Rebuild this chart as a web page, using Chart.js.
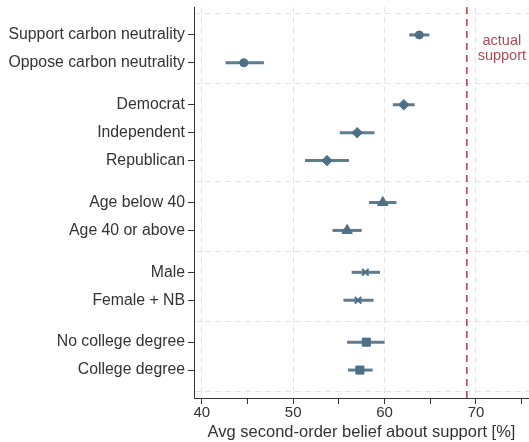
<!DOCTYPE html>
<html>
<head>
<meta charset="utf-8">
<script src="https://cdn.jsdelivr.net/npm/chart.js@4"></script>
<style>
  html, body { margin: 0; padding: 0; background: #fff; }
  #wrap { width: 529px; height: 442px; }
</style>
</head>
<body>
<div id="wrap"><canvas id="chart"></canvas></div>
<script>
// rows, grouped (a gap is left between groups)
const groups = [
  ['Support carbon neutrality', 'Oppose carbon neutrality'],
  ['Democrat', 'Independent', 'Republican'],
  ['Age below 40', 'Age 40 or above'],
  ['Male', 'Female + NB'],
  ['No college degree', 'College degree']
];
const groupMarkers = ['circle', 'rectRot', 'triangle', 'crossRot', 'rect'];

// avg second-order belief and its interval, same order as the rows
const means  = [63.8, 44.6, 62.1, 57.0, 53.7, 59.8, 55.9, 57.9, 57.1, 58.0, 57.3];
const ciLow  = [62.7, 42.6, 60.9, 55.1, 51.3, 58.3, 54.3, 56.4, 55.5, 55.9, 56.0];
const ciHigh = [64.9, 46.8, 63.3, 58.9, 56.1, 61.3, 57.5, 59.5, 58.8, 60.0, 58.7];
const actualSupport = 69;

const xTicks = [40, 45, 50, 55, 60, 65, 70, 75];

// row positions on the y scale
const rows = [];
const separators = [];
let pos = -0.5;
groups.forEach((g, gi) => {
  pos += 1.5;
  separators.push(pos - 0.75);
  g.forEach((name, j) => {
    if (j > 0) pos += 1;
    rows.push({ name, y: pos, group: gi });
  });
});
separators.push(pos + 0.75);
const labelAt = new Map(rows.map(r => [r.y, r.name]));
const sepSet = new Set(separators);

const markerColor = '#4d7088';
const barColor = '#5a7d94';
const gridColor = '#e4e4e4';
const axisColor = '#333';
const none = 'rgba(0,0,0,0)';

Chart.defaults.font.family = '"Liberation Sans", Arial, Helvetica, sans-serif';
Chart.defaults.color = '#333';

const datasets = [];
groups.forEach((g, gi) => {
  datasets.push({
    data: rows.map((r, i) => ({ r, i })).filter(o => o.r.group === gi)
      .map(o => ({ x: means[o.i], y: o.r.y })),
    pointStyle: groupMarkers[gi],
    pointRadius: gi === 2 ? 6 : gi === 4 ? 5.7 : gi === 1 ? 5.2 : gi === 3 ? 4.6 : 4,
    pointBorderWidth: gi === 3 ? 2 : 1,
    pointBackgroundColor: markerColor,
    pointBorderColor: markerColor,
    order: 0
  });
});
rows.forEach((r, i) => {
  datasets.push({
    data: [{ x: ciLow[i], y: r.y }, { x: ciHigh[i], y: r.y }],
    showLine: true,
    borderColor: barColor,
    borderWidth: 3,
    pointRadius: 0,
    order: 1
  });
});
datasets.push({
  data: [{ x: actualSupport, y: 0 }, { x: actualSupport, y: 14 }],
  showLine: true,
  borderColor: '#b83a4b',
  borderWidth: 1.5,
  borderDash: [7, 5],
  pointRadius: 0,
  order: 2
});

const actualLabel = {
  id: 'actualLabel',
  afterDatasetsDraw(chart) {
    const { ctx, scales: { x, y } } = chart;
    const px = x.getPixelForValue(actualSupport) + 35;
    ctx.save();
    ctx.font = '14.5px "Liberation Sans", Arial, sans-serif';
    ctx.fillStyle = '#b04a55';
    ctx.textAlign = 'center';
    ctx.textBaseline = 'middle';
    ctx.fillText('actual', px, y.getPixelForValue(1.22));
    ctx.fillText('support', px, y.getPixelForValue(1.75));
    ctx.restore();
  }
};

new Chart(document.getElementById('chart'), {
  type: 'scatter',
  data: { datasets },
  plugins: [actualLabel],
  options: {
    responsive: true,
    maintainAspectRatio: false,
    animation: false,
    layout: { autoPadding: false, padding: { top: 7, right: 0, bottom: 0, left: 0 } },
    plugins: {
      legend: { display: false },
      tooltip: { enabled: false }
    },
    scales: {
      x: {
        type: 'linear',
        min: 39.15,
        max: 75.8,
        afterBuildTicks: s => { s.ticks = xTicks.map(v => ({ value: v })); },
        afterFit: s => { s.height = 44; s.paddingLeft = 0; s.paddingRight = 0; },
        ticks: {
          autoSkip: false,
          padding: 0,
          color: '#333',
          font: { size: 15 },
          callback: v => (v % 10 === 0 ? String(v) : '')
        },
        grid: {
          color: c => (c.tick && c.tick.value % 10 === 0 ? gridColor : none),
          tickColor: axisColor,
          tickLength: 6,
          lineWidth: 1
        },
        border: { color: axisColor, width: 1, dash: [6, 4] },
        title: {
          display: true,
          text: 'Avg second-order belief about support [%]',
          color: '#333',
          font: { size: 16.5 },
          padding: { top: 0, bottom: 0 }
        }
      },
      y: {
        type: 'linear',
        min: 0,
        max: 14,
        reverse: true,
        afterBuildTicks: s => {
          s.ticks = rows.map(r => ({ value: r.y }))
            .concat(separators.map(v => ({ value: v })));
        },
        afterFit: s => { s.width = 194; s.paddingTop = 0; s.paddingBottom = 0; },
        ticks: {
          autoSkip: false,
          padding: 3,
          color: '#333',
          font: { size: 15.8 },
          callback: v => labelAt.get(v) || ''
        },
        grid: {
          color: c => (c.tick && sepSet.has(c.tick.value) ? gridColor : none),
          tickColor: c => (c.tick && sepSet.has(c.tick.value) ? none : axisColor),
          tickLength: 6,
          lineWidth: 1
        },
        border: { color: axisColor, width: 1, dash: [6, 4] }
      }
    }
  }
});
</script>
</body>
</html>
